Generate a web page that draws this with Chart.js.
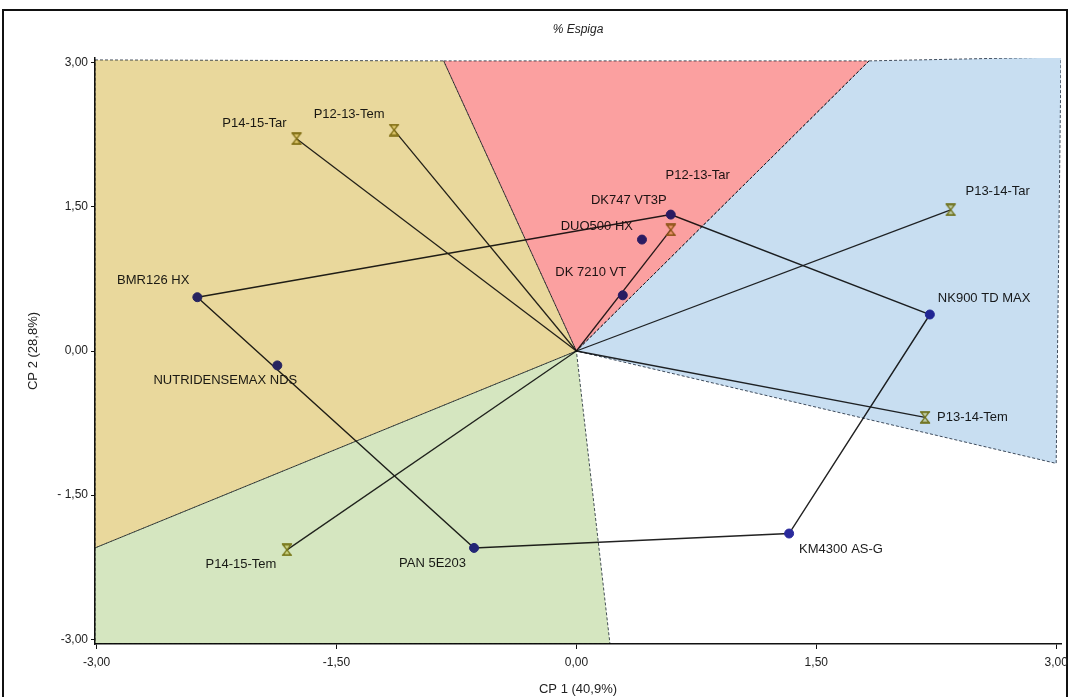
<!DOCTYPE html>
<html>
<head>
<meta charset="utf-8">
<script src="https://cdn.jsdelivr.net/npm/chart.js@4"></script>
<style>
  html, body { margin: 0; padding: 0; background: #fff; }
  #wrap { position: relative; width: 1070px; height: 697px; overflow: hidden; }
  #frame { position: absolute; left: 2px; top: 9px; width: 1062px; height: 720px; border: 2px solid #111; pointer-events: none; z-index: 1; }
  #biplot { position: absolute; left: 0; top: 0; z-index: 2; }
</style>
</head>
<body>
<div id="wrap">
  <div id="frame"></div>
  <canvas id="biplot" width="1070" height="697"></canvas>
</div>
<script>
// Genotypes (circles) and environments (hourglass markers), CP1 / CP2 scores
const genotypes = ["BMR126 HX", "NUTRIDENSEMAX NDS", "PAN 5E203", "KM4300 AS-G", "NK900 TD MAX", "DK747 VT3P", "DUO500 HX", "DK 7210 VT"];
const genoX = [-2.37, -1.87, -0.64, 1.33, 2.21, 0.59, 0.41, 0.29];
const genoY = [0.56, -0.15, -2.05, -1.90, 0.38, 1.42, 1.16, 0.58];

const environments = ["P14-15-Tar", "P12-13-Tem", "P12-13-Tar", "P13-14-Tar", "P13-14-Tem", "P14-15-Tem"];
const envX = [-1.75, -1.14, 0.59, 2.34, 2.18, -1.81];
const envY = [2.21, 2.30, 1.26, 1.47, -0.69, -2.07];

// polygon joining the outermost genotypes
const hullOrder = ["BMR126 HX", "DK747 VT3P", "NK900 TD MAX", "KM4300 AS-G", "PAN 5E203", "BMR126 HX"];

// sectors of the which-won-where plot
const sectorYellowX = [-3.01, -0.83, 0, -3.01];
const sectorYellowY = [3.03, 3.02, 0, -2.05];
const sectorRedX = [-0.83, 1.83, 0];
const sectorRedY = [3.02, 3.02, 0];
const sectorBlueX = [1.83, 3.03, 3.0, 0];
const sectorBlueY = [3.02, 3.06, -1.17, 0];
const sectorGreenX = [0, -3.01, -3.01, 0.21];
const sectorGreenY = [0, -2.05, -3.05, -3.05];

const xTickValues = [-3, -1.5, 0, 1.5, 3];
const xTickLabels = ["-3,00", "-1,50", "0,00", "1,50", "3,00"];
const yTickValues = [-3, -1.5, 0, 1.5, 3];
const yTickLabels = ["-3,00", "- 1,50", "0,00", "1,50", "3,00"];

// label placement relative to each marker (pixels)
const labelPlacement = {
  "BMR126 HX": { dx: -8, dy: -17, align: "right" },
  "NUTRIDENSEMAX NDS": { dx: -52, dy: 15, align: "center" },
  "PAN 5E203": { dx: -8, dy: 15, align: "right" },
  "KM4300 AS-G": { dx: 10, dy: 16, align: "left" },
  "NK900 TD MAX": { dx: 8, dy: -16, align: "left" },
  "DK747 VT3P": { dx: -4, dy: -14, align: "right" },
  "DUO500 HX": { dx: -9, dy: -13, align: "right" },
  "DK 7210 VT": { dx: -32, dy: -23, align: "center" },
  "P14-15-Tar": { dx: -42, dy: -15, align: "center" },
  "P12-13-Tem": { dx: -45, dy: -16, align: "center" },
  "P12-13-Tar": { dx: 27, dy: -55, align: "center" },
  "P13-14-Tar": { dx: 47, dy: -18, align: "center" },
  "P13-14-Tem": { dx: 12, dy: 0, align: "left" },
  "P14-15-Tem": { dx: -46, dy: 15, align: "center" }
};

const FONT = '"Liberation Sans", Arial, sans-serif';
const toPoints = (xs, ys) => xs.map((x, i) => ({ x, y: ys[i] }));
const closed = pts => pts.concat([pts[0]]);

function hourglass() {
  const c = document.createElement("canvas");
  c.width = 12;
  c.height = 13;
  const g = c.getContext("2d");
  g.fillStyle = "#f8f0b8";
  g.strokeStyle = "#8f8420";
  g.lineWidth = 1.3;
  g.beginPath();
  g.moveTo(2, 1.5); g.lineTo(10, 1.5); g.lineTo(6, 6.5);
  g.lineTo(10, 11.5); g.lineTo(2, 11.5); g.lineTo(6, 6.5);
  g.closePath();
  g.fill();
  g.stroke();
  g.lineWidth = 1.7;
  g.beginPath();
  g.moveTo(1, 1); g.lineTo(11, 1);
  g.moveTo(1, 12); g.lineTo(11, 12);
  g.stroke();
  return c;
}

function sector(xs, ys, color) {
  return {
    type: "line",
    data: closed(toPoints(xs, ys)),
    backgroundColor: color,
    borderColor: "#46505e",
    borderWidth: 1,
    borderDash: [3, 2],
    pointRadius: 0,
    fill: "shape",
    tension: 0,
    order: 1
  };
}

const genoPoints = toPoints(genoX, genoY);
const hullPoints = hullOrder.map(n => genoPoints[genotypes.indexOf(n)]);

const vectorSets = environments.map((name, i) => ({
  type: "line",
  data: [{ x: 0, y: 0 }, { x: envX[i], y: envY[i] }],
  borderColor: "#262626",
  borderWidth: 1.3,
  pointRadius: 0,
  fill: false,
  order: 10
}));

// labels are drawn under the sector fills, which are multiplied on top
const labelPlugin = {
  id: "pointLabels",
  afterDatasetDraw(chart, args) {
    const ds = chart.data.datasets[args.index];
    if (!ds.labels) return;
    const ctx = chart.ctx;
    ctx.save();
    ctx.font = "13px " + FONT;
    ctx.fillStyle = "#1c1c1c";
    ctx.textBaseline = "middle";
    args.meta.data.forEach((pt, i) => {
      const p = labelPlacement[ds.labels[i]];
      ctx.textAlign = p.align;
      ctx.fillText(ds.labels[i], pt.x + p.dx, pt.y + p.dy);
    });
    ctx.restore();
    if (ds.multiplyAfter) {
      ctx.save();
      ctx.globalCompositeOperation = "multiply";
      chart.$multiplied = true;
    }
  },
  afterDatasetsDraw(chart) {
    if (chart.$multiplied) {
      chart.ctx.restore();
      chart.$multiplied = false;
    }
  }
};

new Chart(document.getElementById("biplot"), {
  type: "scatter",
  data: {
    datasets: [
      ...vectorSets,
      {
        type: "line",
        data: hullPoints,
        borderColor: "#222",
        borderWidth: 1.4,
        pointRadius: 0,
        fill: false,
        order: 9
      },
      {
        data: genoPoints,
        labels: genotypes,
        pointRadius: 4.5,
        pointBackgroundColor: "#2a2a9c",
        pointBorderColor: "#2a2a9c",
        order: 8
      },
      {
        data: toPoints(envX, envY),
        labels: environments,
        pointStyle: hourglass(),
        multiplyAfter: true,
        order: 7
      },
      sector(sectorYellowX, sectorYellowY, "rgb(233, 216, 156)"),
      sector(sectorRedX, sectorRedY, "rgb(251, 160, 160)"),
      sector(sectorBlueX, sectorBlueY, "rgb(200, 222, 241)"),
      sector(sectorGreenX, sectorGreenY, "rgb(213, 230, 192)")
    ]
  },
  options: {
    responsive: false,
    animation: false,
    events: [],
    layout: { padding: { top: 14, left: 20, right: 9, bottom: 0 } },
    plugins: {
      legend: { display: false },
      tooltip: { enabled: false },
      title: {
        display: true,
        fullSize: false,
        text: "% Espiga",
        color: "#222",
        font: { family: FONT, size: 12, style: "italic", weight: "normal" },
        padding: { top: 8, bottom: 21.6 }
      }
    },
    scales: {
      x: {
        type: "linear",
        min: -3.01,
        max: 3.03,
        afterBuildTicks: s => { s.ticks = xTickValues.map(v => ({ value: v })); },
        afterFit: s => { s.height = 53; s.paddingLeft = 0; s.paddingRight = 0; },
        grid: { drawOnChartArea: false, tickLength: 5, color: "#111" },
        border: { color: "#111", width: 1.5 },
        ticks: {
          autoSkip: false,
          maxRotation: 0,
          padding: 6,
          color: "#222",
          font: { family: FONT, size: 12 },
          callback: (v, i) => xTickLabels[i]
        },
        title: {
          display: true,
          text: "CP 1 (40,9%)",
          color: "#222",
          font: { family: FONT, size: 13 },
          padding: { top: 0, bottom: 0 }
        }
      },
      y: {
        type: "linear",
        min: -3.05,
        max: 3.05,
        afterBuildTicks: s => { s.ticks = yTickValues.map(v => ({ value: v })); },
        afterFit: s => { s.width = 75; s.paddingTop = 0; s.paddingBottom = 0; },
        grid: { drawOnChartArea: false, tickLength: 4, color: "#111" },
        border: { color: "#111", width: 1.5 },
        ticks: {
          autoSkip: false,
          padding: 3,
          color: "#222",
          font: { family: FONT, size: 12 },
          callback: (v, i) => yTickLabels[i]
        },
        title: {
          display: true,
          text: "CP 2 (28,8%)",
          color: "#222",
          font: { family: FONT, size: 13 },
          padding: { top: 6, bottom: 4 }
        }
      }
    }
  },
  plugins: [labelPlugin]
});
</script>
</body>
</html>
